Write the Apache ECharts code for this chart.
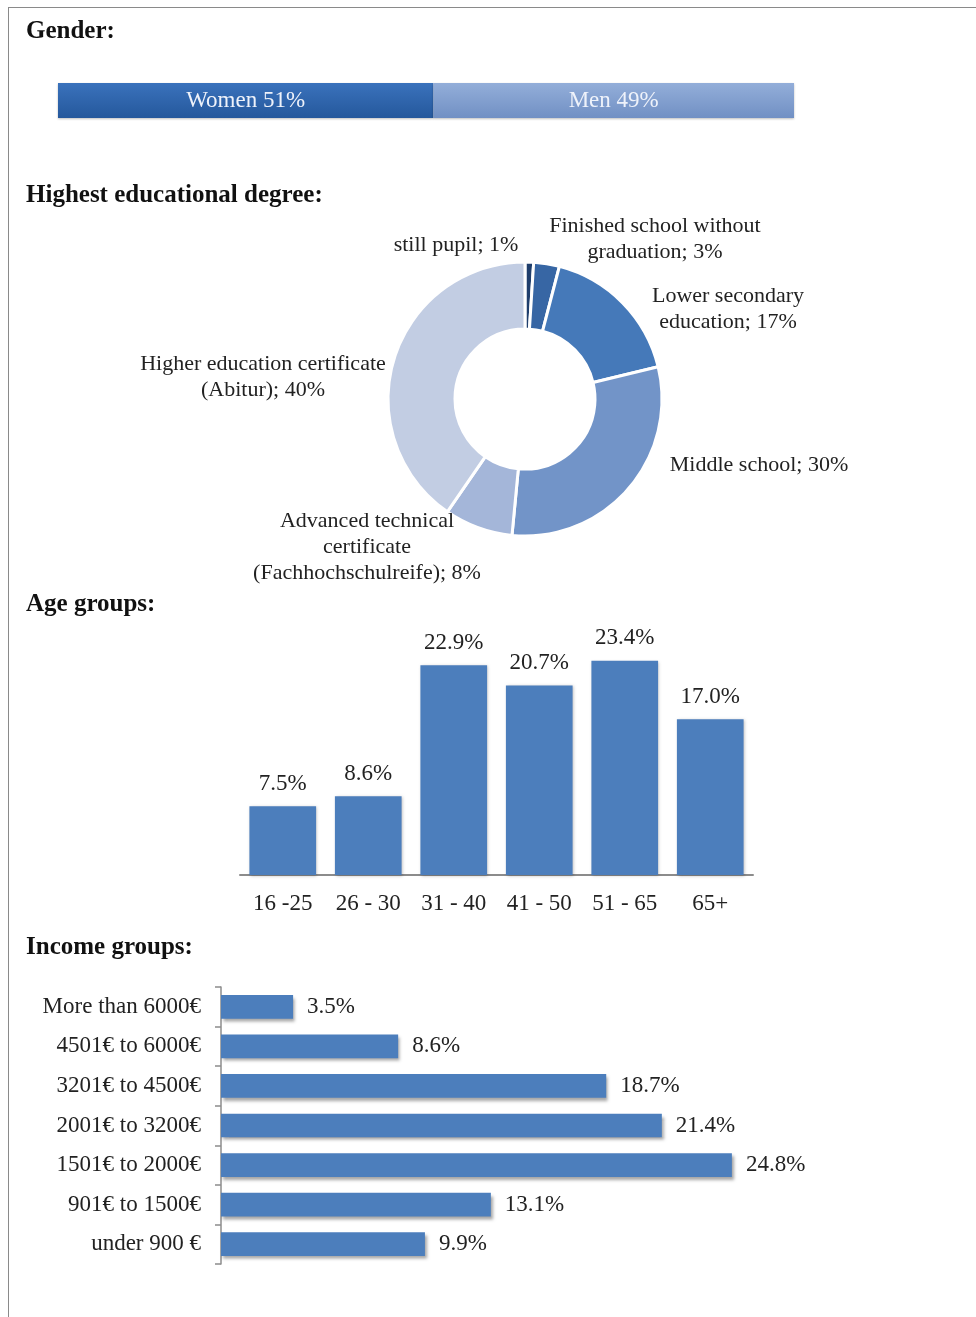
<!DOCTYPE html>
<html>
<head>
<meta charset="utf-8">
<script src="https://cdn.jsdelivr.net/npm/echarts@6/dist/echarts.min.js"></script>
<style>
html,body{margin:0;padding:0;background:#fff;}
#chart{position:absolute;left:0;top:0;width:976px;height:1317px;}
#frame{position:absolute;left:8px;top:7px;width:980px;height:1320px;border-left:1.5px solid #8a8a8a;border-top:1.5px solid #8a8a8a;pointer-events:none;}
</style>
</head>
<body>
<div id="chart"></div>
<div id="frame"></div>
<script>
// ---- data ----
const sectionTitles = ['Gender:', 'Highest educational degree:', 'Age groups:', 'Income groups:'];

const genderNames = ['Women', 'Men'];
const genderValues = [51, 49];

const eduNames = ['still pupil', 'Finished school without\ngraduation', 'Lower secondary\neducation', 'Middle school', 'Advanced technical\ncertificate\n(Fachhochschulreife)', 'Higher education certificate\n(Abitur)'];
const eduValues = [1, 3, 17, 30, 8, 40];

const ageCategories = ['16 -25', '26 - 30', '31 - 40', '41 - 50', '51 - 65', '65+'];
const ageValues = [7.5, 8.6, 22.9, 20.7, 23.4, 17.0];

const incomeCategories = ['under 900 €', '901€ to 1500€', '1501€ to 2000€', '2001€ to 3200€', '3201€ to 4500€', '4501€ to 6000€', 'More than 6000€'];
const incomeValues = [9.9, 13.1, 24.8, 21.4, 18.7, 8.6, 3.5];

// ---- styles / layout ----
const SERIF = '"Liberation Serif", "DejaVu Serif", serif';
const eduColors = ['#1f3e6c', '#3766a4', '#4579b9', '#7294c8', '#a4b6d9', '#c2cde3'];
const eduLabelPos = [[456, 245], [655, 239], [728, 309], [759, 465], [367, 547], [263, 377]];
const genderColors = [
  new echarts.graphic.LinearGradient(0, 0, 0, 1, [{offset: 0, color: '#3a72bc'}, {offset: 1, color: '#25589c'}]),
  new echarts.graphic.LinearGradient(0, 0, 0, 1, [{offset: 0, color: '#93aed9'}, {offset: 1, color: '#7190c4'}])
];
const barBlue = '#4c7ebc';

const chart = echarts.init(document.getElementById('chart'), null, {renderer: 'canvas'});

const titleTops = [19, 183, 592, 935];

const option = {
  animation: false,
  title: sectionTitles.map((t, i) => ({
    text: t, left: 26, top: titleTops[i], padding: 0,
    textStyle: {fontFamily: SERIF, fontWeight: 'bold', fontSize: 25, color: '#111'}
  })),
  grid: [
    {left: 58, top: 83, width: 736, height: 35},
    {left: 240, top: 646, width: 513, height: 229},
    {left: 221, top: 987, width: 618, height: 277}
  ],
  xAxis: [
    {gridIndex: 0, type: 'value', min: 0, max: 100, show: false},
    {gridIndex: 1, type: 'category', data: ageCategories,
      axisLine: {lineStyle: {color: '#8c8c8c', width: 2}}, axisTick: {show: false},
      axisLabel: {fontFamily: SERIF, fontSize: 23, color: '#222', margin: 17}},
    {gridIndex: 2, type: 'value', min: 0, max: 30, show: false}
  ],
  yAxis: [
    {gridIndex: 0, type: 'category', data: ['gender'], show: false},
    {gridIndex: 1, type: 'value', min: 0, max: 25, show: false},
    {gridIndex: 2, type: 'category', data: incomeCategories,
      axisLine: {lineStyle: {color: '#8c8c8c', width: 1.5}},
      axisTick: {show: true, length: 6, lineStyle: {color: '#8c8c8c', width: 1.5}},
      axisLabel: {fontFamily: SERIF, fontSize: 23, color: '#222', margin: 20}}
  ],
  series: [
    ...genderNames.map((n, i) => ({
      type: 'bar', name: n, xAxisIndex: 0, yAxisIndex: 0, stack: 'g', barWidth: '100%',
      data: [genderValues[i]],
      itemStyle: {color: genderColors[i], shadowColor: 'rgba(0,0,0,0.25)', shadowBlur: 2, shadowOffsetY: 1},
      label: {show: true, position: 'inside', formatter: n + ' ' + genderValues[i] + '%',
        fontFamily: SERIF, fontSize: 23, color: '#eef2fa'}
    })),
    {
      type: 'pie', center: [525, 399], radius: [70, 137], startAngle: 90, clockwise: true,
      avoidLabelOverlap: false,
      data: eduNames.map((n, i) => ({name: n, value: eduValues[i], itemStyle: {color: eduColors[i]}})),
      itemStyle: {borderColor: '#fff', borderWidth: 3},
      label: {show: true, position: 'outside', formatter: p => p.name + '; ' + p.value + '%',
        fontFamily: SERIF, fontSize: 22, lineHeight: 26, color: '#222', align: 'center'},
      labelLine: {show: false},
      labelLayout: p => ({x: eduLabelPos[p.dataIndex][0], y: eduLabelPos[p.dataIndex][1], align: 'center', verticalAlign: 'middle'}),
      emphasis: {disabled: true}
    },
    {
      type: 'bar', xAxisIndex: 1, yAxisIndex: 1, data: ageValues, barCategoryGap: '22%',
      itemStyle: {color: barBlue, shadowColor: 'rgba(0,0,0,0.25)', shadowBlur: 3, shadowOffsetX: 1, shadowOffsetY: 1},
      label: {show: true, position: 'top', distance: 11, formatter: p => p.value.toFixed(1) + '%',
        fontFamily: SERIF, fontSize: 23, color: '#222'}
    },
    {
      type: 'bar', xAxisIndex: 2, yAxisIndex: 2, data: incomeValues, barCategoryGap: '40%',
      itemStyle: {color: barBlue, shadowColor: 'rgba(0,0,0,0.35)', shadowBlur: 3, shadowOffsetX: 2, shadowOffsetY: 3},
      label: {show: true, position: 'right', distance: 14, formatter: p => p.value.toFixed(1) + '%',
        fontFamily: SERIF, fontSize: 23, color: '#222'}
    }
  ]
};
chart.setOption(option);
</script>
</body>
</html>
